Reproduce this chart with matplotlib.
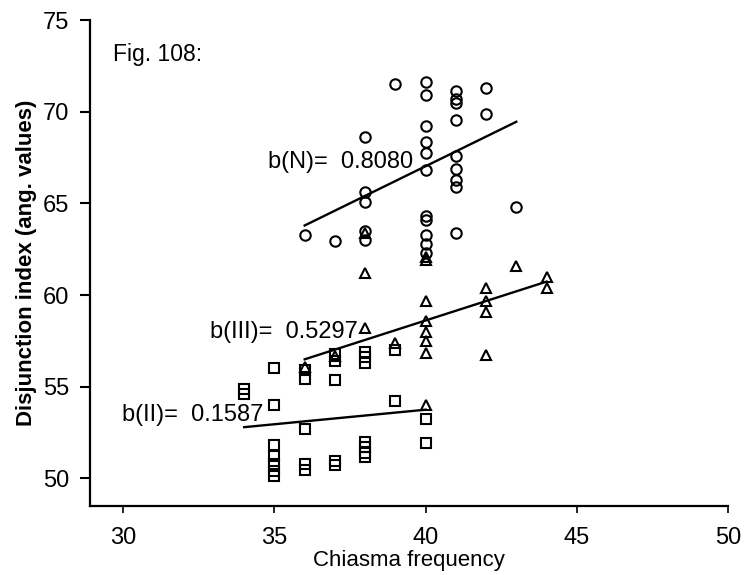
import matplotlib.pyplot as plt

plt.rcParams['font.family'] = ['Liberation Sans', 'DejaVu Sans']

# chiasma frequency / disjunction index
n_x = [36, 37, 38, 38, 38, 38, 38, 39,
       40, 40, 40, 40, 40, 40, 40, 40, 40, 40, 40,
       41, 41, 41, 41, 41, 41, 41, 41, 41, 42, 42, 43]
n_y = [63.3, 62.95, 68.6, 65.6, 65.1, 63.5, 63.0, 71.5,
       71.6, 70.9, 69.2, 68.35, 67.75, 66.8, 64.3, 64.1, 63.3, 62.8, 62.3,
       71.15, 70.7, 70.5, 69.55, 67.6, 66.9, 66.3, 65.9, 63.4, 71.3, 69.9, 64.8]

iii_x = [36, 37, 38, 38, 38, 39,
         40, 40, 40, 40, 40, 40, 40, 40,
         42, 42, 42, 42, 43, 44, 44]
iii_y = [56.1, 56.7, 63.4, 61.2, 58.2, 57.4,
         62.1, 61.9, 59.7, 58.6, 58.0, 57.5, 56.85, 54.0,
         60.4, 59.7, 59.1, 56.75, 61.6, 61.0, 60.4]

ii_x = [34, 34, 35, 35, 35, 35, 35, 35, 35,
        36, 36, 36, 36, 36, 37, 37, 37, 37, 37,
        38, 38, 38, 38, 38, 38, 38, 39, 39, 40, 40]
ii_y = [54.9, 54.6, 56.0, 54.0, 51.8, 51.2, 50.8, 50.4, 50.15,
        55.9, 55.4, 52.7, 50.8, 50.45, 56.8, 56.4, 55.35, 50.95, 50.75,
        56.9, 56.6, 56.3, 52.0, 51.7, 51.4, 51.15, 57.0, 54.2, 53.25, 51.95]

# regression lines: slope, start value, x range
fit_names = ['II', 'III', 'N']
fit_slope = [0.1587, 0.5297, 0.8080]
fit_y0 = [52.8, 56.5, 63.8]
fit_x0 = [34, 36, 36]
fit_x1 = [40, 44, 43]

x_ticks = [30, 35, 40, 45, 50]
y_ticks = [50, 55, 60, 65, 70, 75]

fig = plt.figure(figsize=(7.47, 5.75), dpi=100)
ax = fig.add_axes([0.1205, 0.12, 0.854, 0.845])

mk = dict(linestyle='none', mfc='none', mec='black', mew=1.5)
ax.plot(n_x, n_y, marker='o', ms=7.5, **mk)
ax.plot(iii_x, iii_y, marker='^', ms=7.5, **mk)
ax.plot(ii_x, ii_y, marker='s', ms=6.5, **mk)

for i in range(3):
    xs = [fit_x0[i], fit_x1[i]]
    ys = [fit_y0[i], fit_y0[i] + fit_slope[i] * (fit_x1[i] - fit_x0[i])]
    ax.plot(xs, ys, color='black', lw=1.7)

ax.text(39.6, 67.25, 'b(N)=  0.8080', ha='right', va='center', fontsize=17)
ax.text(37.75, 58.0, 'b(III)=  0.5297', ha='right', va='center', fontsize=17)
ax.text(34.65, 53.45, 'b(II)=  0.1587', ha='right', va='center', fontsize=17)
ax.text(29.67, 73.1, 'Fig. 108:', ha='left', va='center', fontsize=16.5)

ax.set_xlim(28.9, 50)
ax.set_ylim(48.5, 75)
ax.set_xticks(x_ticks)
ax.set_yticks(y_ticks)
ax.spines['top'].set_visible(False)
ax.spines['right'].set_visible(False)
ax.spines['left'].set_linewidth(1.6)
ax.spines['bottom'].set_linewidth(1.6)
ax.tick_params(axis='y', direction='out', length=7, width=1.5, pad=8, labelsize=17)
ax.tick_params(axis='x', direction='out', length=5, width=1.2, pad=10, labelsize=17)

ax.set_xlabel('Chiasma frequency', fontsize=16, labelpad=1)
ax.set_ylabel('Disjunction index (ang. values)', fontsize=16, fontweight='bold', labelpad=4)

fig.savefig('out.png', dpi=100)
